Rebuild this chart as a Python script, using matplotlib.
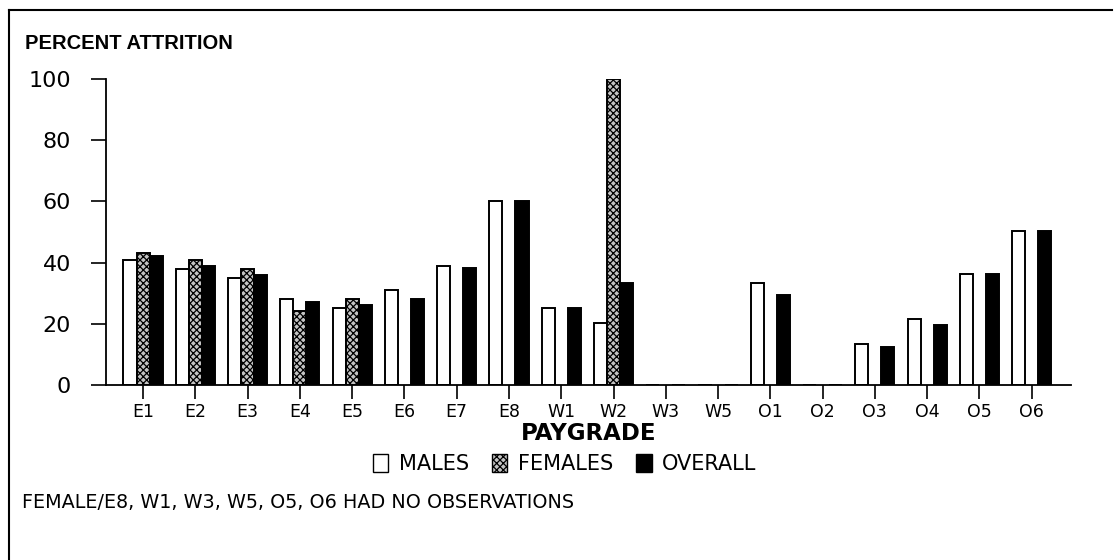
import numpy as np
import matplotlib.pyplot as plt
from matplotlib.patches import Patch
from matplotlib.lines import Line2D

plt.rcParams['font.family'] = ['DejaVu Sans']
plt.rcParams['hatch.linewidth'] = 0.9

grades = ['E1', 'E2', 'E3', 'E4', 'E5', 'E6', 'E7', 'E8', 'W1', 'W2',
          'W3', 'W5', 'O1', 'O2', 'O3', 'O4', 'O5', 'O6']
males = [41, 38, 35, 28, 25, 31, 39, 60, 25.3, 20.2,
         0, 0, 33.2, 0, 13.5, 21.5, 36.3, 50.3]
females = [43, 41, 38, 24.2, 28, np.nan, np.nan, np.nan, np.nan, 100,
           np.nan, np.nan, np.nan, np.nan, np.nan, np.nan, np.nan, np.nan]
overall = [42, 39, 36, 27, 26, 28, 38.2, 60, 25.3, 33.2,
           0, 0, 29.3, 0, 12.4, 19.6, 36.3, 50.3]

fig = plt.figure(figsize=(11.2, 5.6), dpi=100)
ax = fig.add_axes([0.0946, 0.3125, 0.862, 0.5465])

x = np.arange(len(grades))
w = 0.25
ax.bar(x - w, males, w, color='white', edgecolor='black', linewidth=1.4)
ax.bar(x, females, w, color='#c4c4c4', edgecolor='black', linewidth=1.4,
       hatch='xxxxx')
ax.bar(x + w, overall, w, color='black', edgecolor='black', linewidth=1.4)

ax.set_xlim(-0.71, 17.76)
ax.set_ylim(0, 100)
ax.set_yticks([0, 20, 40, 60, 80, 100])
ax.set_xticks(x)
ax.set_xticklabels(grades)
for s in ['top', 'right']:
    ax.spines[s].set_visible(False)
for s in ['left', 'bottom']:
    ax.spines[s].set_linewidth(1.3)
ax.tick_params(axis='y', labelsize=16, length=11, width=1.2, pad=14)
ax.tick_params(axis='x', labelsize=12.5, length=10, width=1.2, pad=3)

ax.set_xlabel('PAYGRADE', fontsize=16.5, fontweight='bold', labelpad=1)
fig.text(0.022, 0.922, 'PERCENT ATTRITION', fontsize=14.5, fontweight='bold',
         va='center', ha='left', family='Liberation Sans')

handles = [Patch(facecolor='white', edgecolor='black', label='MALES'),
           Patch(facecolor='#c4c4c4', edgecolor='black', hatch='xxxxx', label='FEMALES'),
           Patch(facecolor='black', edgecolor='black', label='OVERALL')]
fig.legend(handles=handles, loc='center', bbox_to_anchor=(0.504, 0.171), ncol=3,
           frameon=False, fontsize=15, handlelength=0.75, handleheight=0.9,
           handletextpad=0.5, columnspacing=1.1)

fig.text(0.02, 0.102, 'FEMALE/E8, W1, W3, W5, O5, O6 HAD NO OBSERVATIONS',
         fontsize=13.8, va='center', ha='left')

# scanned frame: only top and left edges are visible
fig.add_artist(Line2D([0.008, 0.993], [0.982, 0.982], transform=fig.transFigure,
                      color='black', linewidth=1.5))
fig.add_artist(Line2D([0.008, 0.008], [0.0, 0.982], transform=fig.transFigure,
                      color='black', linewidth=1.5))

fig.savefig('out.png', dpi=100)
